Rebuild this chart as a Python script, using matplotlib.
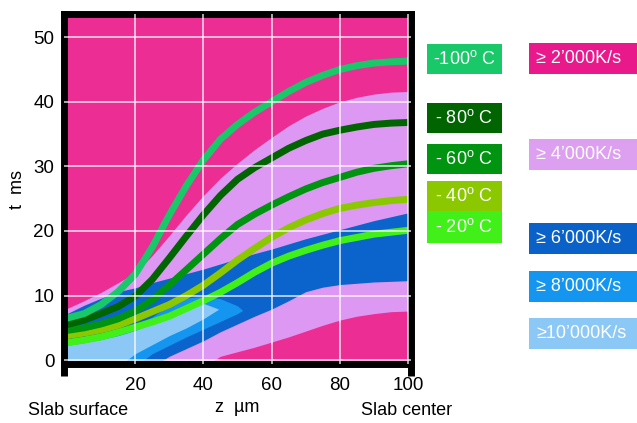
import matplotlib
matplotlib.use("Agg")
import matplotlib.pyplot as plt
from matplotlib.patches import Rectangle

plt.rcParams["font.family"] = ["Liberation Sans", "DejaVu Sans"]
plt.rcParams["mathtext.fontset"] = "custom"
plt.rcParams["mathtext.rm"] = "Liberation Sans"

# depth z (um), common grid for isotherms and the two big rate bands
z = [0, 5, 10, 15, 20, 25, 30, 35, 40, 45, 50, 55, 60, 65, 70, 75, 80, 85, 90, 95, 100]

# isotherms: time t (ms) at which the slab reaches the temperature
t_m100 = [6.5, 7.2, 8.6, 10.6, 13.3, 17.5, 22.5, 27.0, 31.0, 34.2, 36.5, 38.4, 40.0, 41.6, 43.0, 44.1, 45.0, 45.6, 46.0, 46.2, 46.3]
t_m80 = [5.5, 6.2, 7.2, 8.3, 9.9, 12.5, 15.8, 19.2, 22.5, 25.5, 28.0, 29.8, 31.3, 32.8, 34.0, 35.0, 35.6, 36.1, 36.5, 36.7, 36.8]
t_m60 = [4.6, 5.0, 5.6, 6.4, 7.6, 9.3, 11.6, 14.0, 16.4, 18.8, 21.0, 22.6, 24.0, 25.3, 26.5, 27.5, 28.3, 29.1, 29.7, 30.1, 30.4]
t_m40 = [3.8, 4.2, 4.7, 5.4, 6.4, 7.5, 8.6, 10.0, 11.6, 13.5, 15.5, 17.3, 19.0, 20.5, 21.7, 22.7, 23.5, 24.0, 24.4, 24.7, 24.9]
t_m20 = [2.7, 3.1, 3.6, 4.3, 5.1, 5.9, 6.8, 8.0, 9.2, 10.5, 12.0, 13.6, 15.0, 16.1, 17.0, 17.8, 18.5, 19.0, 19.5, 19.8, 20.1]

# cooling-rate regions (lower / upper boundary in t)
r4000_lo = [-1, -1, -1, -1, -1, -1, -1, -1, -1, 0.6, 1.3, 2.0, 2.8, 3.6, 4.5, 5.4, 6.2, 6.8, 7.2, 7.5, 7.6]
r4000_hi = [8.0, 9.2, 10.5, 12.0, 13.5, 16.2, 19.3, 22.5, 25.5, 28.2, 30.5, 32.6, 34.5, 36.3, 37.8, 39.0, 40.0, 40.7, 41.2, 41.5, 41.6]
r6000_lo = [-1, -1, -1, -1, -1, -1, 0.6, 1.8, 3.0, 4.4, 5.6, 6.8, 7.9, 9.2, 10.6, 11.3, 11.7, 11.9, 12.1, 12.2, 12.3]
r6000_hi = [7.2, 8.5, 9.6, 10.6, 11.2, 12.0, 12.7, 13.4, 14.1, 14.9, 15.7, 16.5, 17.2, 18.0, 18.8, 19.5, 20.2, 20.9, 21.6, 22.2, 22.8]

z_8000 = [0, 5, 10, 15, 20, 25, 30, 35, 40, 45, 50, 51.5]
r8000_lo = [-1, -1, -1, -1, -1, 1.0, 2.3, 3.6, 4.8, 6.0, 7.2, 7.7]
r8000_hi = [2.6, 3.2, 3.8, 4.6, 5.5, 6.7, 8.5, 9.6, 9.9, 9.5, 8.4, 7.7]

z_10000 = [0, 5, 10, 15, 20, 25, 30, 35, 40, 44.5]
r10000_lo = [-1, -1, -1, -1, 1.0, 2.4, 3.8, 5.0, 6.4, 7.9]
r10000_hi = [2.3, 2.7, 3.2, 3.8, 4.6, 5.7, 7.0, 8.2, 8.8, 7.9]

temp_labels = ["-100$^{\\mathrm{o}}$ C", "- 80$^{\\mathrm{o}}$ C", "- 60$^{\\mathrm{o}}$ C",
               "- 40$^{\\mathrm{o}}$ C", "- 20$^{\\mathrm{o}}$ C"]
temp_colors = ["#19C868", "#006400", "#009410", "#8CC800", "#40F018"]
rate_labels = ["\u2265 2\u2019000K/s", "\u2265 4\u2019000K/s", "\u2265 6\u2019000K/s",
               "\u2265 8\u2019000K/s", "\u226510\u2019000K/s"]
rate_colors = ["#E9198C", "#DDA0F0", "#0A62C8", "#1496F0", "#8CC8F5"]
bg_pink = "#EC2D94"
fill_colors = ["#DC98F2", "#0A64CC", "#1496F0", "#8CC8F5"]

W, H = 637, 423
fig = plt.figure(figsize=(W / 100, H / 100), dpi=100)
ax = fig.add_axes([64 / W, 1 - 364 / H, 347 / W, 350 / H])
ax.set_facecolor(bg_pink)

ax.fill_between(z, r4000_lo, r4000_hi, color=fill_colors[0], lw=0, zorder=1)
ax.fill_between(z, r6000_lo, r6000_hi, color=fill_colors[1], lw=0, zorder=1)
ax.fill_between(z_8000, r8000_lo, r8000_hi, color=fill_colors[2], lw=0, zorder=1)
ax.fill_between(z_10000, r10000_lo, r10000_hi, color=fill_colors[3], lw=0, zorder=1)

for t, c in zip([t_m20, t_m40, t_m60, t_m80, t_m100], temp_colors[::-1]):
    ax.plot(z, t, color=c, lw=5, solid_capstyle="butt", zorder=2)

ax.set_xlim(-0.9, 100.9)
ax.set_ylim(-0.6, 53.6)
ax.set_xticks([20, 40, 60, 80, 100])
ax.set_yticks([0, 10, 20, 30, 40, 50])
ax.tick_params(length=0, labelsize=13.5)
ax.tick_params(axis="x", pad=9)
ax.tick_params(axis="y", pad=7)
ax.set_axisbelow(False)
ax.grid(True, color="white", lw=1.1, alpha=0.85)

for s in ax.spines.values():
    s.set_linewidth(5)
    s.set_color("black")
# left and right frame bars stick out below the bottom bar
for xa in (0, 1):
    ax.plot([xa, xa], [0, -0.033], transform=ax.transAxes, color="black",
            lw=5, solid_capstyle="butt", clip_on=False)

ax.set_ylabel("t  ms", fontsize=13, labelpad=5)
ax.set_xlabel("z  \u00b5m", fontsize=13, labelpad=4)
fig.text(28 / W, 1 - 410 / H, "Slab surface", fontsize=13, ha="left", va="center")
fig.text(407 / W, 1 - 410 / H, "Slab center", fontsize=13, ha="center", va="center")

# legend swatches
temp_boxes = [(44, 74), (103, 133), (144, 174), (181, 211), (211, 243)]
for (y0, y1), lab, c in zip(temp_boxes, temp_labels, temp_colors):
    fig.add_artist(Rectangle((427 / W, 1 - y1 / H), 75 / W, (y1 - y0) / H,
                             transform=fig.transFigure, color=c, lw=0))
    fig.text(464 / W, 1 - (y0 + y1) / 2 / H, lab, color="white", fontsize=13,
             ha="center", va="center")

rate_boxes = [(43, 74), (139, 170), (223, 254), (271, 302), (318, 349)]
for (y0, y1), lab, c in zip(rate_boxes, rate_labels, rate_colors):
    fig.add_artist(Rectangle((529 / W, 1 - y1 / H), 120 / W, (y1 - y0) / H,
                             transform=fig.transFigure, color=c, lw=0))
    fig.text(536 / W, 1 - (y0 + y1) / 2 / H, lab, color="white", fontsize=13,
             ha="left", va="center")

fig.savefig("out.png", dpi=100, facecolor="white")
